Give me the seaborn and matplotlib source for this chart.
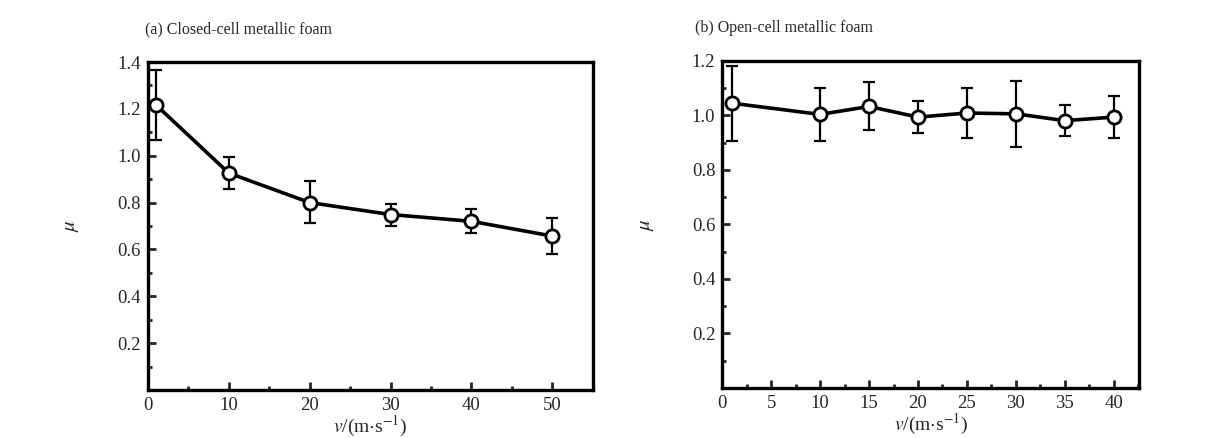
import matplotlib
matplotlib.use("Agg")
import matplotlib.pyplot as plt
import seaborn as sns
import pandas as pd
import numpy as np
from matplotlib.ticker import MultipleLocator

# ---- data ----
v_closed = [1, 10, 20, 30, 40, 50]
mu_closed = [1.217, 0.926, 0.800, 0.749, 0.720, 0.657]
mu_closed_hi = [1.366, 0.996, 0.890, 0.795, 0.773, 0.733]
mu_closed_lo = [1.068, 0.858, 0.712, 0.702, 0.670, 0.580]

v_open = [1, 10, 15, 20, 25, 30, 35, 40]
mu_open = [1.045, 1.004, 1.033, 0.994, 1.009, 1.006, 0.981, 0.994]
mu_open_hi = [1.180, 1.100, 1.123, 1.053, 1.100, 1.127, 1.037, 1.070]
mu_open_lo = [0.905, 0.905, 0.947, 0.936, 0.917, 0.883, 0.926, 0.917]

titles = ["(a) Closed-cell metallic foam", "(b) Open-cell metallic foam"]
x_ticks_closed = [0, 10, 20, 30, 40, 50]
x_ticks_open = [0, 5, 10, 15, 20, 25, 30, 35, 40]

sns.set_theme(style="ticks")
plt.rcParams['font.family'] = ['Liberation Serif', 'DejaVu Serif']
plt.rcParams['mathtext.fontset'] = 'stix'

fig = plt.figure(figsize=(12.32, 4.38), dpi=100)
ax1 = fig.add_axes([0.1200, 0.1096, 0.3612, 0.7488])
ax2 = fig.add_axes([0.5862, 0.1142, 0.3385, 0.7466])

def draw(ax, v, mu, hi, lo, xlim, ylim, xmaj, xmin_, title, tx):
    df = pd.DataFrame({"v": v, "mu": mu})
    yerr = [np.array(mu) - np.array(lo), np.array(hi) - np.array(mu)]
    ax.errorbar(v, mu, yerr=yerr, fmt='none', ecolor='black', elinewidth=1.6,
                capsize=4, capthick=1.6, zorder=2)
    sns.lineplot(data=df, x="v", y="mu", ax=ax, color='black', linewidth=2.6,
                 marker='o', markersize=9.5, markerfacecolor='white',
                 markeredgecolor='black', markeredgewidth=2, zorder=3)
    ax.set_xlim(*xlim)
    ax.set_ylim(*ylim)
    ax.xaxis.set_major_locator(MultipleLocator(xmaj))
    ax.xaxis.set_minor_locator(MultipleLocator(xmin_))
    ax.yaxis.set_major_locator(MultipleLocator(0.2))
    ax.yaxis.set_minor_locator(MultipleLocator(0.1))
    yt = [t for t in np.arange(0.2, ylim[1] + 1e-6, 0.2)]
    ax.set_yticks(yt)
    ax.set_yticklabels([f"{t:.1f}" for t in yt])
    ax.tick_params(which='major', direction='in', length=6, width=2,
                   labelsize=13.5, top=False, right=False, pad=5)
    ax.tick_params(which='minor', direction='in', length=3, width=2,
                   top=False, right=False)
    for s in ax.spines.values():
        s.set_linewidth(2.4)
        s.set_color('black')
    ax.set_xlabel(r'$v$/(m$\cdot$s$^{-1}$)', fontsize=14, labelpad=0)
    ax.set_ylabel(r'$\mu$', fontsize=15, labelpad=26)
    ax.text(tx, 1.075, title, transform=ax.transAxes, fontsize=11.5,
            ha='left', va='bottom')

draw(ax1, v_closed, mu_closed, mu_closed_hi, mu_closed_lo, (0, 55), (0, 1.4),
     10, 5, titles[0], -0.007)
draw(ax2, v_open, mu_open, mu_open_hi, mu_open_lo, (0, 42.6), (0, 1.2),
     5, 2.5, titles[1], -0.065)
ax1.set_xticks(x_ticks_closed)
ax2.set_xticks(x_ticks_open)

fig.savefig("out.png", dpi=100, facecolor='white')
